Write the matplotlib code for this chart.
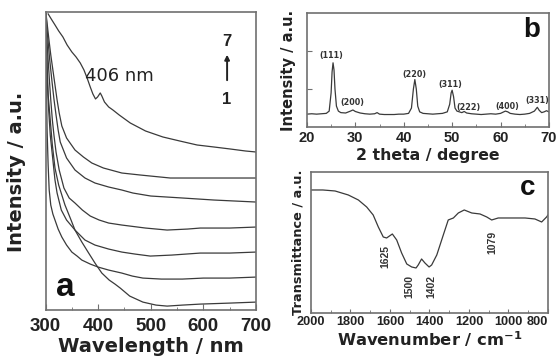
import matplotlib.pyplot as plt
from matplotlib.ticker import MultipleLocator

# ---- panel a: UV-vis spectra (curve 1 = bottom at 700 nm, 7 = top)
wl_1 = [301, 302, 303, 305, 309, 313, 318, 325, 337, 347, 356, 369, 382, 394, 407, 421, 432, 442, 460, 485, 510, 531, 560, 594, 650, 700]
ab_1 = [296, 270, 245, 215, 190, 165, 142, 125, 105, 92, 80, 68, 57, 47, 37, 30, 26, 22, 14, 8, 5, 4, 5, 6, 7, 8]
wl_2 = [300, 301, 302, 303, 305, 307, 310, 314, 318, 324, 331, 340, 350, 360, 369, 385, 400, 420, 445, 465, 485, 520, 560, 600, 650, 700]
ab_2 = [296, 255, 215, 180, 145, 120, 105, 96, 90, 81, 73, 65, 58, 54, 50, 46, 43, 40, 37, 34, 32, 31, 31, 32, 32, 33]
wl_3 = [301, 302, 303, 306, 309, 314, 318, 322, 330, 340, 356, 375, 394, 420, 445, 470, 499, 540, 594, 650, 700]
ab_3 = [296, 260, 235, 200, 175, 150, 130, 117, 100, 90, 80, 70, 65, 61, 58, 56, 54, 55, 57, 57, 58]
wl_4 = [301, 302, 305, 308, 310, 313, 316, 320, 326, 335, 345, 356, 370, 385, 402, 420, 445, 490, 531, 570, 594, 650, 700]
ab_4 = [296, 275, 250, 225, 210, 190, 175, 158, 140, 122, 112, 107, 100, 94, 90, 87, 85, 82, 80, 81, 82, 82, 83]
wl_5 = [301, 303, 305, 308, 312, 316, 320, 324, 328, 340, 356, 375, 394, 420, 445, 466, 500, 561, 620, 700]
ab_5 = [296, 280, 268, 250, 230, 211, 195, 180, 168, 152, 140, 132, 127, 123, 120, 117, 114, 112, 110, 108]
wl_6 = [301, 304, 307, 310, 314, 318, 322, 326, 331, 340, 356, 372, 388, 410, 445, 480, 537, 594, 650, 700]
ab_6 = [296, 282, 268, 255, 240, 225, 210, 197, 184, 172, 160, 153, 147, 142, 137, 135, 132, 132, 132, 132]
wl_7 = [305, 312, 318, 325, 333, 341, 350, 358, 366, 373, 379, 385, 390, 395, 399, 404, 407, 412, 420, 428, 440, 461, 490, 523, 555, 588, 620, 651, 680, 700]
ab_7 = [296, 290, 285, 279, 273, 265, 258, 253, 247, 240, 232, 223, 216, 211, 213, 217, 214, 208, 203, 200, 195, 187, 179, 173, 169, 165, 163, 161, 159, 158]
uv_curves = [(wl_1, ab_1), (wl_2, ab_2), (wl_3, ab_3), (wl_4, ab_4), (wl_5, ab_5), (wl_6, ab_6), (wl_7, ab_7)]

# ---- panel b: XRD pattern
two_theta = [20, 21, 22, 23, 24, 24.6, 25.0, 25.2, 25.4, 25.6, 25.8, 26.1, 26.5, 27, 28, 29, 29.5, 30, 31, 32, 33, 34,
             34.5, 35, 36, 37, 38, 39, 40, 41, 41.6, 42.0, 42.3, 42.6, 42.9, 43.3, 44, 45, 46, 47, 48, 49, 49.5, 49.8,
             50.0, 50.3, 50.6, 51, 52, 52.5, 53, 54, 55, 56, 57, 58, 59, 60, 61, 61.5, 62, 63, 64, 65, 66, 67, 67.6,
             68, 68.5, 69, 69.5, 70]
xrd_int = [0.34, 0.35, 0.34, 0.35, 0.36, 0.42, 0.9, 1.45, 1.69, 1.5, 1.0, 0.55, 0.42, 0.38, 0.37, 0.42, 0.45, 0.41,
           0.37, 0.35, 0.34, 0.35, 0.38, 0.34, 0.33, 0.33, 0.33, 0.34, 0.34, 0.36, 0.5, 1.0, 1.25, 1.0, 0.55, 0.4,
           0.36, 0.35, 0.34, 0.35, 0.36, 0.4, 0.6, 0.9, 0.97, 0.8, 0.5, 0.42, 0.38, 0.41, 0.37, 0.35, 0.34, 0.33,
           0.34, 0.35, 0.34, 0.36, 0.42, 0.40, 0.36, 0.34, 0.33, 0.34, 0.36, 0.42, 0.52, 0.44, 0.38, 0.40, 0.43, 0.40]
hkl_labels = ['(111)', '(200)', '(220)', '(311)', '(222)', '(400)', '(331)']
hkl_x = [25.1, 29.3, 42.3, 49.7, 53.4, 61.3, 67.5]
hkl_y = [1.87, 0.64, 1.39, 1.12, 0.52, 0.55, 0.69]

# ---- panel c: FTIR spectrum
wavenumber = [2000, 1940, 1878, 1811, 1760, 1718, 1685, 1659, 1634, 1617, 1588, 1566, 1541, 1515, 1490, 1468, 1457,
              1440, 1423, 1402, 1389, 1363, 1330, 1305, 1279, 1254, 1224, 1186, 1144, 1110, 1085, 1052, 984, 916,
              866, 832, 807, 800]
transmit = [123, 123, 122, 118, 113, 106, 98, 86, 76, 75, 79, 73, 60, 49, 46, 45, 48, 54, 50, 46, 48, 58, 78, 93, 95,
            100, 103, 100, 99, 96, 93, 95, 95, 95, 94, 91, 96, 98]
ir_bands = ['1625', '1500', '1402', '1079']
ir_x = [1625, 1502, 1392, 1082]
ir_y = [56, 26, 26, 71]

line_c = '#3a3a3a'
spine_c = '#707070'
tick_font = 'Liberation Sans'
lab_font = 'DejaVu Sans'

fig = plt.figure(figsize=(5.57, 3.61), dpi=100)
ax_a = fig.add_axes([0.0817, 0.141, 0.378, 0.826])
ax_b = fig.add_axes([0.551, 0.648, 0.4345, 0.316])
ax_c = fig.add_axes([0.5583, 0.133, 0.4255, 0.3906])

for ax in (ax_a, ax_b, ax_c):
    for s in ax.spines.values():
        s.set_color(spine_c)
        s.set_linewidth(1.2)
    ax.tick_params(which='both', direction='in', color=spine_c, top=False, right=False)

# panel a
for wl, ab in uv_curves:
    ax_a.plot(wl, ab, color=line_c, lw=0.9)
ax_a.set_xlim(300, 700)
ax_a.set_ylim(0, 298)
ax_a.set_yticks([])
ax_a.xaxis.set_major_locator(MultipleLocator(100))
ax_a.xaxis.set_minor_locator(MultipleLocator(50))
ax_a.tick_params(axis='x', which='major', length=4, pad=6)
ax_a.tick_params(axis='x', which='minor', length=2)
for lb in ax_a.get_xticklabels():
    lb.set_fontfamily(tick_font)
    lb.set_fontweight('bold')
    lb.set_fontsize(13.5)
    lb.set_color('#222222')
ax_a.set_xlabel('Wavelength / nm', fontfamily=lab_font, fontweight='bold', fontsize=14, color='#222222', labelpad=1)
ax_a.set_ylabel('Intensity / a.u.', fontfamily=lab_font, fontweight='bold', fontsize=14, color='#222222')
ax_a.yaxis.set_label_coords(-0.093, 0.463)
ax_a.text(441, 234, '406 nm', fontfamily=lab_font, fontsize=13, ha='center', va='center', color='#222222')
ax_a.text(645, 268, '7', fontfamily=tick_font, fontweight='bold', fontsize=12, ha='center', va='center', color='#222222')
ax_a.text(645, 210, '1', fontfamily=tick_font, fontweight='bold', fontsize=12, ha='center', va='center', color='#222222')
ax_a.annotate('', xy=(645, 258), xytext=(645, 227),
              arrowprops=dict(arrowstyle='-|>', color='#222222', lw=1.4, mutation_scale=7))
ax_a.text(337, 23, 'a', fontfamily=tick_font, fontweight='bold', fontsize=24, ha='center', va='center', color='#111111')

# panel b
ax_b.plot(two_theta, xrd_int, color=line_c, lw=0.9)
ax_b.set_xlim(20, 70)
ax_b.set_ylim(0, 3)
ax_b.set_yticks([1, 2])
ax_b.set_yticklabels([])
ax_b.xaxis.set_major_locator(MultipleLocator(10))
ax_b.xaxis.set_minor_locator(MultipleLocator(5))
ax_b.tick_params(axis='x', which='major', length=3.5, pad=3)
ax_b.tick_params(axis='x', which='minor', length=2)
ax_b.tick_params(axis='y', length=3.5)
for lb in ax_b.get_xticklabels():
    lb.set_fontfamily(tick_font)
    lb.set_fontweight('bold')
    lb.set_fontsize(10.5)
    lb.set_color('#222222')
ax_b.set_xlabel('2 theta / degree', fontfamily=lab_font, fontweight='bold', fontsize=11.3, color='#222222', labelpad=2)
ax_b.set_ylabel('Intensity / a.u.', fontfamily=lab_font, fontweight='bold', fontsize=10.5, color='#222222', labelpad=4)
for lab, x, y in zip(hkl_labels, hkl_x, hkl_y):
    ax_b.text(x, y, lab, fontfamily=lab_font, fontweight='bold', fontsize=5.8, ha='center', va='center', color='#333333')
ax_b.text(66.5, 2.55, 'b', fontfamily=tick_font, fontweight='bold', fontsize=20, ha='center', va='center', color='#111111')

# panel c
ax_c.plot(wavenumber, transmit, color=line_c, lw=0.9)
ax_c.set_xlim(2000, 800)
ax_c.set_ylim(0, 141)
ax_c.set_yticks([])
ax_c.xaxis.set_major_locator(MultipleLocator(200))
ax_c.xaxis.set_minor_locator(MultipleLocator(100))
ax_c.tick_params(axis='x', which='major', length=3, pad=2)
ax_c.tick_params(axis='x', which='minor', length=2)
for lb in ax_c.get_xticklabels():
    lb.set_fontfamily(tick_font)
    lb.set_fontweight('bold')
    lb.set_fontsize(9.2)
    lb.set_color('#222222')
fig.canvas.draw()
for lb in ax_c.get_xticklabels():
    if lb.get_text() == '800':
        lb.set_horizontalalignment('right')
ax_c.set_xlabel('Wavenumber / cm$^{\\mathbf{-1}}$', fontfamily=lab_font, fontweight='bold', fontsize=11.8,
                color='#222222', labelpad=1)
ax_c.set_ylabel('Transmittance / a.u.', fontfamily=lab_font, fontweight='bold', fontsize=9.3, color='#222222', labelpad=5)
for lab, x, y in zip(ir_bands, ir_x, ir_y):
    ax_c.text(x, y, lab, fontfamily=tick_font, fontweight='bold', fontsize=7.5, rotation=90,
              ha='center', va='center', color='#333333')
ax_c.text(901, 125, 'c', fontfamily=tick_font, fontweight='bold', fontsize=20, ha='center', va='center', color='#111111')

fig.savefig('out.png', dpi=100)
